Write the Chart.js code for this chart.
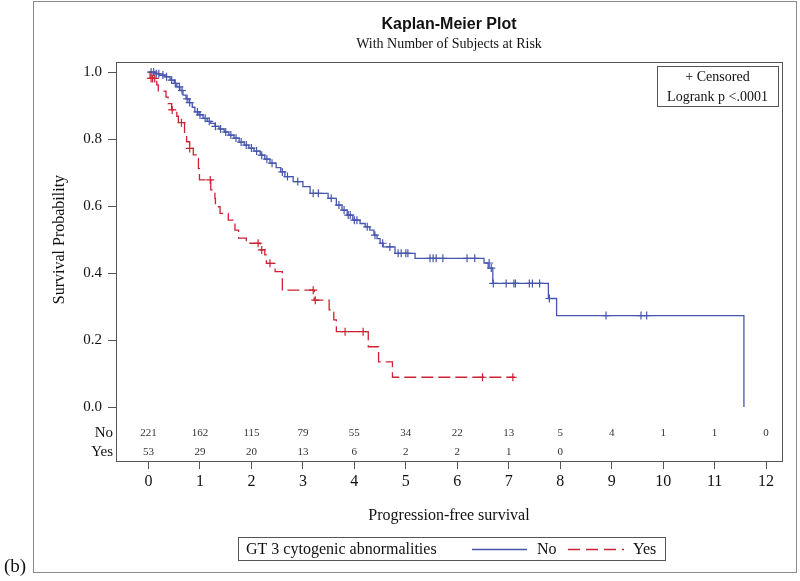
<!DOCTYPE html>
<html>
<head>
<meta charset="utf-8">
<script src="https://cdn.jsdelivr.net/npm/chart.js@4.4.1/dist/chart.umd.min.js"></script>
<style>
html,body{margin:0;padding:0;background:#fff;}
canvas{display:block;}
</style>
</head>
<body>
<canvas id="c" width="800" height="581"></canvas>
<script>
// ---- Data ----
// Group "No": step curve (time, survival after the drop)
const noTime = [0, 0.13, 0.22, 0.32, 0.42, 0.50, 0.55, 0.61, 0.67, 0.73, 0.79, 0.85, 0.90, 0.98, 1.06, 1.14, 1.21, 1.29, 1.37, 1.47, 1.56, 1.66, 1.76, 1.86, 1.95, 2.05, 2.17, 2.26, 2.36, 2.48, 2.57, 2.65, 2.81, 3.00, 3.14, 3.49, 3.65, 3.76, 3.86, 3.97, 4.11, 4.21, 4.30, 4.38, 4.44, 4.50, 4.56, 4.79, 5.18, 6.52, 6.60, 6.69, 7.77, 7.93, 11.57];
const noSurv = [1.0, 0.995, 0.991, 0.986, 0.976, 0.966, 0.956, 0.945, 0.931, 0.920, 0.909, 0.895, 0.881, 0.872, 0.862, 0.853, 0.847, 0.838, 0.830, 0.821, 0.812, 0.803, 0.791, 0.782, 0.773, 0.764, 0.752, 0.740, 0.728, 0.715, 0.702, 0.688, 0.673, 0.658, 0.638, 0.623, 0.603, 0.588, 0.573, 0.558, 0.548, 0.538, 0.528, 0.513, 0.503, 0.489, 0.478, 0.459, 0.444, 0.430, 0.415, 0.369, 0.324, 0.273, 0.0];
// Group "No": censored observations
const noCensTime = [0.05, 0.10, 0.15, 0.20, 0.28, 0.35, 0.45, 0.52, 0.60, 0.65, 0.75, 0.80, 0.95, 1.00, 1.10, 1.18, 1.30, 1.40, 1.50, 1.60, 1.70, 1.80, 1.90, 2.00, 2.10, 2.20, 2.30, 2.40, 2.60, 2.70, 2.90, 3.20, 3.30, 3.55, 3.70, 3.80, 3.88, 3.92, 4.00, 4.05, 4.25, 4.40, 4.55, 4.69, 4.85, 4.91, 5.00, 5.04, 5.47, 5.53, 5.59, 5.72, 6.19, 6.34, 6.62, 6.66, 6.70, 6.95, 7.10, 7.13, 7.40, 7.46, 7.60, 7.79, 8.89, 9.57, 9.68];
const noCensSurv = [1.0, 1.0, 0.995, 0.995, 0.991, 0.986, 0.976, 0.966, 0.956, 0.945, 0.920, 0.909, 0.881, 0.872, 0.862, 0.853, 0.838, 0.830, 0.821, 0.812, 0.803, 0.791, 0.782, 0.773, 0.764, 0.752, 0.740, 0.728, 0.702, 0.688, 0.673, 0.638, 0.638, 0.623, 0.603, 0.588, 0.573, 0.573, 0.558, 0.558, 0.538, 0.513, 0.489, 0.478, 0.459, 0.459, 0.459, 0.459, 0.444, 0.444, 0.444, 0.444, 0.444, 0.444, 0.430, 0.415, 0.369, 0.369, 0.369, 0.369, 0.369, 0.369, 0.369, 0.324, 0.273, 0.273, 0.273];

// Group "Yes": step curve
const yesTime = [0, 0.03, 0.16, 0.19, 0.34, 0.38, 0.45, 0.55, 0.58, 0.70, 0.74, 0.80, 0.87, 0.96, 0.97, 0.99, 1.21, 1.29, 1.30, 1.39, 1.55, 1.68, 1.75, 1.90, 2.17, 2.26, 2.29, 2.46, 2.60, 3.22, 3.51, 3.60, 3.65, 4.27, 4.47, 4.74, 7.12];
const yesSurv = [1.0, 0.981, 0.962, 0.943, 0.925, 0.906, 0.887, 0.868, 0.849, 0.810, 0.792, 0.772, 0.753, 0.742, 0.712, 0.678, 0.648, 0.623, 0.598, 0.578, 0.558, 0.528, 0.504, 0.489, 0.469, 0.454, 0.429, 0.404, 0.349, 0.319, 0.290, 0.260, 0.225, 0.180, 0.135, 0.089, 0.089];
// Group "Yes": censored observations
const yesCensTime = [0.05, 0.08, 0.12, 0.46, 0.64, 0.80, 1.20, 2.13, 2.20, 2.36, 3.20, 3.24, 3.82, 4.17, 6.49, 7.08];
const yesCensSurv = [0.981, 0.981, 0.981, 0.887, 0.849, 0.772, 0.678, 0.489, 0.469, 0.429, 0.349, 0.319, 0.225, 0.225, 0.089, 0.089];

// Number at risk
const atRiskTimes = [0, 1, 2, 3, 4, 5, 6, 7, 8, 9, 10, 11, 12];
const atRiskNo = [221, 162, 115, 79, 55, 34, 22, 13, 5, 4, 1, 1, 0];
const atRiskYes = [53, 29, 20, 13, 6, 2, 2, 1, 0];
const atRiskLabels = ['No', 'Yes'];

// Axis ticks
const xTicks = [0, 1, 2, 3, 4, 5, 6, 7, 8, 9, 10, 11, 12];
const yTicks = [0, 0.2, 0.4, 0.6, 0.8, 1.0];

const groupLabels = ['No', 'Yes'];
// ---------------------------------------

const BLUE = '#4656ad';
const RED = '#cc2233';
const SERIF = '"Liberation Serif", "DejaVu Serif", serif';
const SANS = '"Liberation Sans", Arial, sans-serif';

function pts(xs, ys) { return xs.map((x, i) => ({x: x, y: ys[i]})); }

const decor = {
  id: 'decor',
  afterDraw(chart) {
    const ctx = chart.ctx;
    const a = chart.chartArea;
    const xs = chart.scales.x;
    ctx.save();
    // outer frame
    ctx.strokeStyle = '#8a8a8a';
    ctx.lineWidth = 1;
    ctx.strokeRect(33.5, 1.5, 763, 571);
    // plot frame
    ctx.strokeStyle = '#555';
    ctx.strokeRect(Math.round(a.left) + 0.5, Math.round(a.top) + 0.5, Math.round(a.right - a.left), Math.round(a.bottom - a.top));

    const cx = (a.left + a.right) / 2;
    ctx.fillStyle = '#111';
    ctx.textAlign = 'center';
    ctx.textBaseline = 'middle';
    ctx.font = 'bold 16px ' + SANS;
    ctx.fillText('Kaplan-Meier Plot', cx, 25);
    ctx.font = '14px ' + SERIF;
    ctx.fillText('With Number of Subjects at Risk', cx, 44);

    // axis titles
    ctx.font = '16px ' + SERIF;
    ctx.fillText('Progression-free survival', cx, 516);
    ctx.save();
    ctx.translate(60, chart.scales.y.getPixelForValue(0.5));
    ctx.rotate(-Math.PI / 2);
    ctx.fillText('Survival Probability', 0, 0);
    ctx.restore();

    // inset box
    ctx.strokeStyle = '#555';
    ctx.strokeRect(657.5, 66.5, 121, 40);
    ctx.font = '14px ' + SERIF;
    ctx.fillText('+ Censored', 717.5, 77);
    ctx.fillText('Logrank p <.0001', 717.5, 97);

    // at-risk table
    const yNo = a.bottom - 28, yYes = a.bottom - 9;
    ctx.font = '11px ' + SERIF;
    ctx.fillStyle = '#333';
    atRiskNo.forEach((v, i) => ctx.fillText(String(v), xs.getPixelForValue(atRiskTimes[i]), yNo));
    atRiskYes.forEach((v, i) => ctx.fillText(String(v), xs.getPixelForValue(atRiskTimes[i]), yYes));
    ctx.font = '15px ' + SERIF;
    ctx.fillStyle = '#111';
    ctx.textAlign = 'right';
    ctx.fillText(atRiskLabels[0], a.left - 3, yNo);
    ctx.fillText(atRiskLabels[1], a.left - 3, yYes);

    // bottom legend
    ctx.strokeStyle = '#555';
    ctx.strokeRect(238.5, 537.5, 427, 23);
    ctx.textAlign = 'left';
    ctx.font = '16px ' + SERIF;
    ctx.fillStyle = '#111';
    ctx.fillText('GT 3 cytogenic abnormalities', 246, 549.5);
    ctx.lineWidth = 1.3;
    ctx.strokeStyle = BLUE;
    ctx.beginPath(); ctx.moveTo(472, 549.5); ctx.lineTo(527, 549.5); ctx.stroke();
    ctx.fillText(groupLabels[0], 537, 549.5);
    ctx.strokeStyle = RED;
    ctx.setLineDash([12, 6]);
    ctx.beginPath(); ctx.moveTo(568, 549.5); ctx.lineTo(624, 549.5); ctx.stroke();
    ctx.setLineDash([]);
    ctx.fillText(groupLabels[1], 633, 549.5);

    // panel label
    ctx.font = '19px ' + SERIF;
    ctx.fillText('(b)', 4, 567);
    ctx.restore();
  }
};

new Chart(document.getElementById('c'), {
  type: 'scatter',
  data: {
    datasets: [
      { label: 'No', data: pts(noTime, noSurv), showLine: true, stepped: true, borderColor: BLUE, borderWidth: 1.3, pointRadius: 0, fill: false },
      { label: 'Yes', data: pts(yesTime, yesSurv), showLine: true, stepped: true, borderColor: RED, borderWidth: 1.3, borderDash: [12, 5], pointRadius: 0, fill: false },
      { label: 'No censored', data: pts(noCensTime, noCensSurv), showLine: false, pointStyle: 'cross', pointRadius: 4, pointBorderWidth: 1.2, borderColor: BLUE, backgroundColor: BLUE },
      { label: 'Yes censored', data: pts(yesCensTime, yesCensSurv), showLine: false, pointStyle: 'cross', pointRadius: 4, pointBorderWidth: 1.2, borderColor: RED, backgroundColor: RED }
    ]
  },
  options: {
    responsive: false,
    animation: false,
    devicePixelRatio: 1,
    layout: { padding: { top: 62, left: 0, right: 18, bottom: 0 } },
    plugins: { legend: { display: false }, tooltip: { enabled: false }, title: { display: false } },
    scales: {
      x: {
        type: 'linear', min: -0.632, max: 12.31,
        afterBuildTicks: s => { s.ticks = xTicks.map(v => ({ value: v })); },
        afterFit: s => { s.height = 120; },
        ticks: { autoSkip: false, maxRotation: 0, padding: 3, color: '#111', font: { family: SERIF, size: 16 }, callback: v => String(v) },
        grid: { drawOnChartArea: false, drawTicks: true, tickLength: 8, color: '#555' },
        border: { display: false }
      },
      y: {
        type: 'linear', min: -0.161, max: 1.030,
        afterBuildTicks: s => { s.ticks = yTicks.map(v => ({ value: v })); },
        afterFit: s => { s.width = 116; },
        ticks: { autoSkip: false, padding: 6, color: '#111', font: { family: SERIF, size: 15 }, callback: v => Number(v).toFixed(1) },
        grid: { drawOnChartArea: false, drawTicks: true, tickLength: 8, color: '#555' },
        border: { display: false }
      }
    }
  },
  plugins: [decor]
});
</script>
</body>
</html>
